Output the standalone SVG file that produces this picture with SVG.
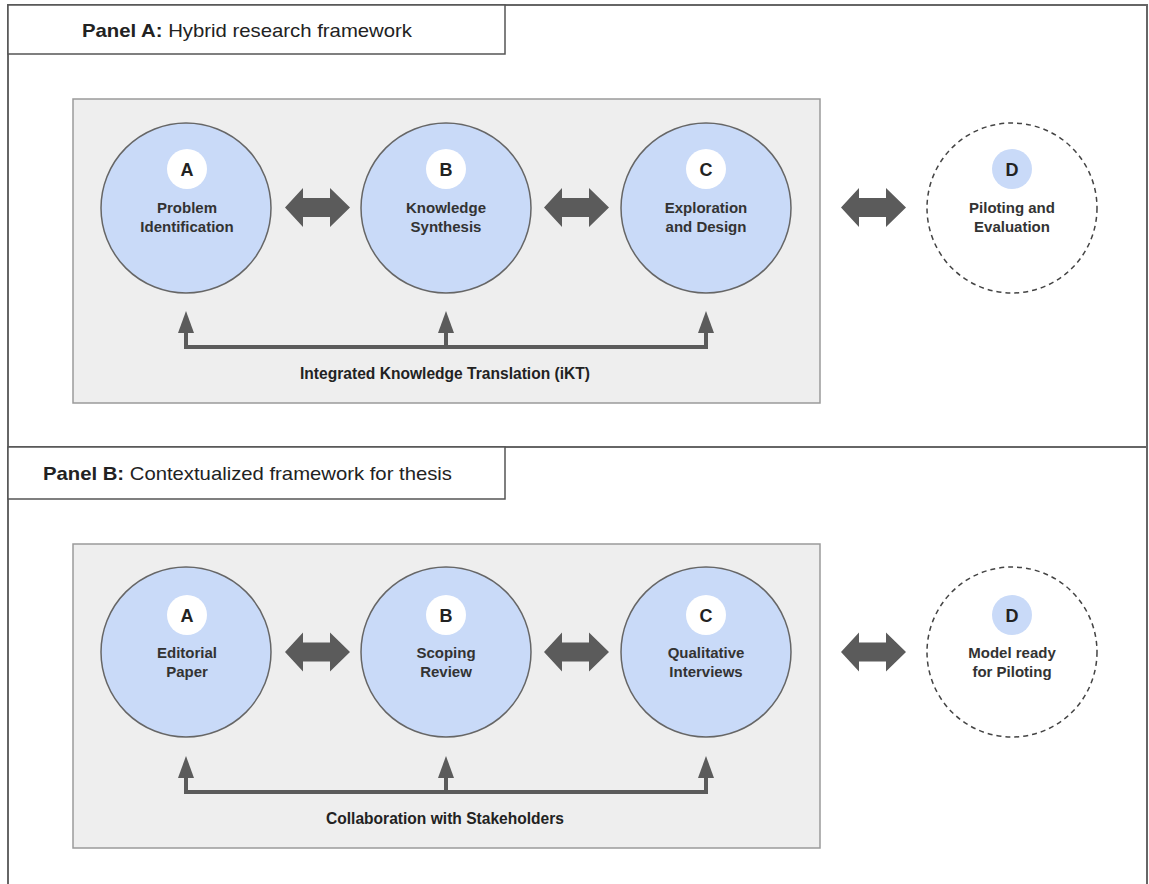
<svg xmlns="http://www.w3.org/2000/svg" width="1149" height="884" viewBox="0 0 1149 884">
<defs>
<style>
.frame{fill:#fff;stroke:#666;stroke-width:2}
.hdr{fill:#fff;stroke:#555;stroke-width:1.5}
.hdrt{font-family:"Liberation Sans",Arial,sans-serif;font-size:19px;fill:#222}
.gbox{fill:#eeeeee;stroke:#9a9a9a;stroke-width:1.5}
.node{fill:#c9daf8;stroke:#666;stroke-width:1.5}
.dnode{fill:#fff;stroke:#444;stroke-width:1.5;stroke-dasharray:5 4}
.badge{fill:#fff}
.dbadge{fill:#c9daf8}
.lt{font-family:"Liberation Sans",Arial,sans-serif;font-size:18px;font-weight:bold;fill:#222;text-anchor:middle}
.nt{font-family:"Liberation Sans",Arial,sans-serif;font-size:15px;font-weight:bold;fill:#333;text-anchor:middle}
.arr{fill:#5b5b5b}
.conn{fill:none;stroke:#5b5b5b;stroke-width:4}
.ct{font-family:"Liberation Sans",Arial,sans-serif;font-size:17px;font-weight:bold;fill:#222;text-anchor:middle}
</style>
<path id="dbl" d="M0,0 L18,-19.5 L18,-9.5 L45,-9.5 L45,-19.5 L65,0 L45,19.5 L45,9.5 L18,9.5 L18,19.5 Z"/>
<path id="up" d="M-8,22 L0,0 L8,22 Z"/>
</defs>

<g id="frame">
<rect class="frame" x="8" y="5" width="1139" height="890"/>
<line x1="8" y1="447" x2="1147" y2="447" stroke="#666" stroke-width="2"/>
</g>

<g id="panelA-header">
<rect class="hdr" x="8" y="5" width="497" height="49"/>
<text class="hdrt" x="82" y="37" textLength="330" lengthAdjust="spacingAndGlyphs"><tspan font-weight="bold">Panel A:</tspan> Hybrid research framework</text>
</g>
<g id="panelA-box"><rect class="gbox" x="73" y="99" width="747" height="304"/></g>

<g id="A1">
<circle class="node" cx="186" cy="208" r="85"/>
<circle class="badge" cx="187" cy="169" r="20"/>
<text class="lt" x="187" y="175.5">A</text>
<text class="nt" x="187" y="213">Problem</text>
<text class="nt" x="187" y="232">Identification</text>
</g>
<g id="B1">
<circle class="node" cx="446" cy="208" r="85"/>
<circle class="badge" cx="446" cy="169" r="20"/>
<text class="lt" x="446" y="175.5">B</text>
<text class="nt" x="446" y="213">Knowledge</text>
<text class="nt" x="446" y="232">Synthesis</text>
</g>
<g id="C1">
<circle class="node" cx="706" cy="208" r="85"/>
<circle class="badge" cx="706" cy="169" r="20"/>
<text class="lt" x="706" y="175.5">C</text>
<text class="nt" x="706" y="213">Exploration</text>
<text class="nt" x="706" y="232">and Design</text>
</g>
<g id="D1">
<circle class="dnode" cx="1012" cy="208" r="85"/>
<circle class="dbadge" cx="1012" cy="169" r="20"/>
<text class="lt" x="1012" y="175.5">D</text>
<text class="nt" x="1012" y="213">Piloting and</text>
<text class="nt" x="1012" y="232">Evaluation</text>
</g>

<g id="panelB-header">
<rect class="hdr" x="8" y="447" width="497" height="52"/>
<text class="hdrt" x="43" y="480" textLength="409" lengthAdjust="spacingAndGlyphs"><tspan font-weight="bold">Panel B:</tspan> Contextualized framework for thesis</text>
</g>
<g id="panelB-box"><rect class="gbox" x="73" y="544" width="747" height="304"/></g>

<g id="A2">
<circle class="node" cx="186" cy="652" r="85"/>
<circle class="badge" cx="187" cy="615" r="20"/>
<text class="lt" x="187" y="621.5">A</text>
<text class="nt" x="187" y="658">Editorial</text>
<text class="nt" x="187" y="677">Paper</text>
</g>
<g id="B2">
<circle class="node" cx="446" cy="652" r="85"/>
<circle class="badge" cx="446" cy="615" r="20"/>
<text class="lt" x="446" y="621.5">B</text>
<text class="nt" x="446" y="658">Scoping</text>
<text class="nt" x="446" y="677">Review</text>
</g>
<g id="C2">
<circle class="node" cx="706" cy="652" r="85"/>
<circle class="badge" cx="706" cy="615" r="20"/>
<text class="lt" x="706" y="621.5">C</text>
<text class="nt" x="706" y="658">Qualitative</text>
<text class="nt" x="706" y="677">Interviews</text>
</g>
<g id="D2">
<circle class="dnode" cx="1012" cy="652" r="85"/>
<circle class="dbadge" cx="1012" cy="615" r="20"/>
<text class="lt" x="1012" y="621.5">D</text>
<text class="nt" x="1012" y="658">Model ready</text>
<text class="nt" x="1012" y="677">for Piloting</text>
</g>

<g id="connectors">
<use href="#dbl" class="arr" x="285" y="207.5"/>
<use href="#dbl" class="arr" x="544" y="207.5"/>
<use href="#dbl" class="arr" x="841" y="207.5"/>
<use href="#dbl" class="arr" x="285" y="652"/>
<use href="#dbl" class="arr" x="544" y="652"/>
<use href="#dbl" class="arr" x="841" y="652"/>

<path class="conn" d="M186,332 V347 H706 V332 M446,347 V332"/>
<use href="#up" class="arr" x="186" y="311"/>
<use href="#up" class="arr" x="446" y="311"/>
<use href="#up" class="arr" x="706" y="311"/>
<text class="ct" x="445" y="379" textLength="290" lengthAdjust="spacingAndGlyphs">Integrated Knowledge Translation (iKT)</text>

<path class="conn" d="M186,777 V792 H706 V777 M446,792 V777"/>
<use href="#up" class="arr" x="186" y="756"/>
<use href="#up" class="arr" x="446" y="756"/>
<use href="#up" class="arr" x="706" y="756"/>
<text class="ct" x="445" y="824" textLength="238" lengthAdjust="spacingAndGlyphs">Collaboration with Stakeholders</text>
</g>
</svg>
